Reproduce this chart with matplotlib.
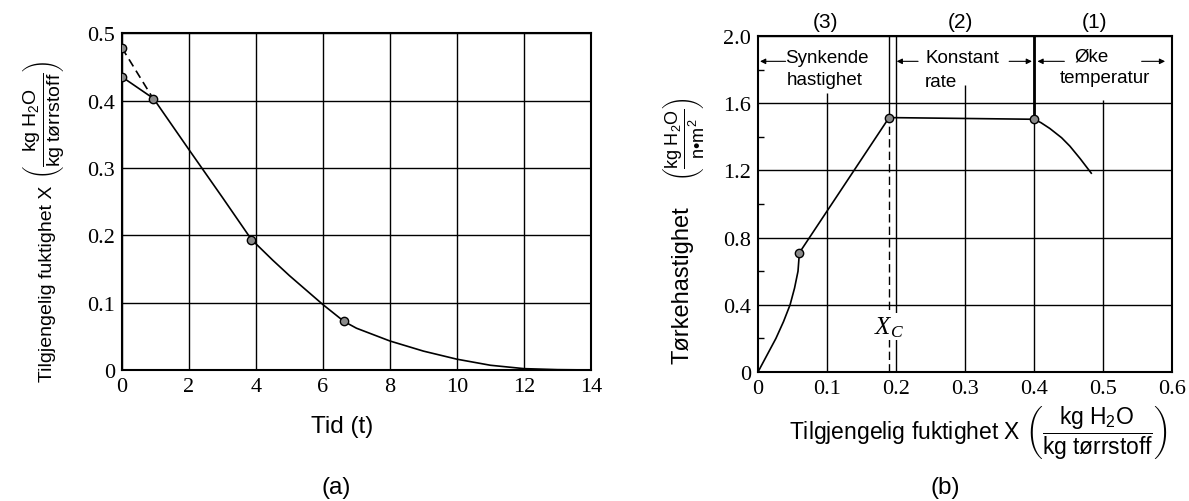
import matplotlib
matplotlib.use('Agg')
import matplotlib.pyplot as plt
from matplotlib.ticker import MultipleLocator

plt.rcParams['font.family'] = ['Liberation Sans', 'DejaVu Sans']
plt.rcParams['mathtext.fontset'] = 'custom'
plt.rcParams['mathtext.rm'] = 'Liberation Sans'
plt.rcParams['mathtext.it'] = 'Liberation Serif:italic'
plt.rcParams['mathtext.bf'] = 'Liberation Sans:bold'

# (a) moisture content vs time
t_curve = [0, 0.94, 2, 3, 3.86, 4.5, 5, 6, 6.63, 7, 8, 9, 10, 11, 12, 13, 14]
x_curve = [0.435, 0.403, 0.327, 0.256, 0.194, 0.163, 0.140, 0.097, 0.072,
           0.062, 0.043, 0.028, 0.016, 0.007, 0.002, 0.0005, 0.0]
t_dash = [0, 0.94]
x_dash = [0.478, 0.402]
t_marks = [0, 0, 0.94, 3.86, 6.63]
x_marks = [0.478, 0.435, 0.402, 0.193, 0.072]

# (b) drying rate vs moisture content
X_rate = [0, 0.013, 0.026, 0.037, 0.0465, 0.053, 0.058, 0.060, 0.19, 0.40,
          0.41, 0.423, 0.44, 0.452, 0.467, 0.483]
R_rate = [0, 0.10, 0.20, 0.30, 0.40, 0.50, 0.60, 0.71, 1.515, 1.505,
          1.485, 1.450, 1.395, 1.345, 1.270, 1.184]
X_marks = [0.060, 0.19, 0.40]
R_marks = [0.71, 1.515, 1.505]
X_c = 0.19
regions = ['(3)', '(2)', '(1)']
region_x = [0.098, 0.294, 0.487]

fig = plt.figure(figsize=(11.89, 5.02), dpi=100)
ax1 = fig.add_axes([0.1026, 0.261, 0.3944, 0.671])
ax2 = fig.add_axes([0.6375, 0.257, 0.3482, 0.669])

marker_style = dict(marker='o', markersize=6, markerfacecolor='#8a8a8a',
                    markeredgecolor='black', markeredgewidth=1.0,
                    linestyle='none', zorder=5)

# ---- left chart ----
ax1.plot(t_curve, x_curve, color='black', lw=1.2, zorder=4)
ax1.plot(t_dash, x_dash, color='black', lw=1.2, dashes=(5, 3), zorder=4)
ax1.plot(t_marks, x_marks, **marker_style)
ax1.set_xlim(0, 14)
ax1.set_ylim(0, 0.5)
ax1.set_xticks(range(0, 15, 2))
ax1.set_xticklabels([str(v) for v in range(0, 15, 2)])
ax1.set_yticks([0, 0.1, 0.2, 0.3, 0.4, 0.5])
ax1.set_yticklabels(['0', '0.1', '0.2', '0.3', '0.4', '0.5'])
ax1.grid(True, color='black', lw=1.0)

# ---- right chart ----
ax2.plot(X_rate, R_rate, color='black', lw=1.2, zorder=4)
ax2.plot(X_marks, R_marks, **marker_style)
ax2.set_xlim(0, 0.6)
ax2.set_ylim(0, 2.0)
ax2.set_xticks([0, 0.1, 0.2, 0.3, 0.4, 0.5, 0.6])
ax2.set_xticklabels(['0', '0.1', '0.2', '0.3', '0.4', '0.5', '0.6'])
ax2.set_yticks([0, 0.4, 0.8, 1.2, 1.6, 2.0])
ax2.set_yticklabels(['0', '0.4', '0.8', '1.2', '1.6', '2.0'])
ax2.yaxis.set_minor_locator(MultipleLocator(0.2))
ax2.tick_params(axis='y', which='minor', direction='in', length=4,
                width=1.0)
ax2.grid(True, axis='y', color='black', lw=1.0)
ax2.vlines([0.1, 0.3, 0.5], 0, [1.66, 1.71, 1.62], color='black', lw=1.0)
ax2.vlines([0.2, 0.4], 0, 2.0, color='black', lw=1.0)
ax2.vlines(X_c, 1.515, 2.0, color='black', lw=1.0)
ax2.vlines(0.40, 1.505, 2.0, color='black', lw=2.0)
ax2.plot([X_c, X_c], [0, 1.515], color='black', lw=1.0, dashes=(6, 3))
ax2.text(X_c, 0.27, r'$X_C$', ha='center', va='center', fontsize=18,
         bbox=dict(facecolor='white', edgecolor='none', pad=1), zorder=6)

# region labels and arrows
box = dict(facecolor='white', edgecolor='none', pad=1.5)
ax2.text(0.100, 1.87, 'Synkende', ha='center', va='center', fontsize=13.5,
         bbox=box, zorder=6)
ax2.text(0.097, 1.74, 'hastighet', ha='center', va='center', fontsize=13.5,
         bbox=box, zorder=6)
ax2.text(0.297, 1.87, 'Konstant', ha='center', va='center', fontsize=13.5,
         bbox=box, zorder=6)
ax2.text(0.242, 1.73, 'rate', ha='left', va='center', fontsize=13.5,
         bbox=box, zorder=6)
ax2.text(0.484, 1.88, 'Øke', ha='center', va='center', fontsize=13.5,
         bbox=box, zorder=6)
ax2.text(0.503, 1.755, 'temperatur', ha='center', va='center',
         fontsize=13.5, bbox=box, zorder=6)
arrow = dict(arrowstyle='-|>', lw=0.8, color='black', mutation_scale=8,
             shrinkA=0, shrinkB=0)
for x0, x1 in [(0.040, 0.003), (0.232, 0.201), (0.364, 0.397),
               (0.444, 0.405), (0.556, 0.590)]:
    ax2.annotate('', xy=(x1, 1.85), xytext=(x0, 1.85), arrowprops=arrow,
                 zorder=7)
for label, xp in zip(regions, region_x):
    ax2.text(xp, 2.09, label, ha='center', va='center', fontsize=15)

for ax in (ax1, ax2):
    for spine in ax.spines.values():
        spine.set_linewidth(1.5)
        spine.set_color('black')
    ax.tick_params(axis='both', which='major', length=0, pad=5)
    for lbl in ax.get_xticklabels() + ax.get_yticklabels():
        lbl.set_fontfamily('Liberation Serif')
        lbl.set_fontsize(16)

# axis labels
moist_frac = (r'$\left(\dfrac{\mathrm{kg\ H_2O}}'
              r'{\mathrm{kg\ tørrstoff}}\right)$')
rate_frac = r'$\left(\dfrac{\mathrm{kg\ H_2O}}{\mathrm{n•m^2}}\right)$'

fig.text(342 / 1189, 1 - 427 / 502, 'Tid (t)', ha='center', va='center',
         fontsize=17.5)
fig.text(48 / 1189, 1 - 284 / 502, 'Tilgjengelig fuktighet X',
         ha='center', va='center', rotation=90, fontsize=14)
fig.text(43 / 1189, 1 - 120 / 502, moist_frac,
         ha='center', va='center', rotation=90, fontsize=14)
fig.text(978 / 1189, 1 - 433 / 502,
         'Tilgjengelig fuktighet X ' + moist_frac,
         ha='center', va='center', fontsize=16.5)
fig.text(683 / 1189, 1 - 285 / 502, 'Tørkehastighet',
         ha='center', va='center', rotation=90, fontsize=17)
fig.text(683 / 1189, 1 - 139 / 502, rate_frac,
         ha='center', va='center', rotation=90, fontsize=13)
fig.text(336 / 1189, 1 - 488 / 502, '(a)', ha='center', va='center',
         fontsize=17.5)
fig.text(945 / 1189, 1 - 488 / 502, '(b)', ha='center', va='center',
         fontsize=17.5)

fig.savefig('out.png', dpi=100)
